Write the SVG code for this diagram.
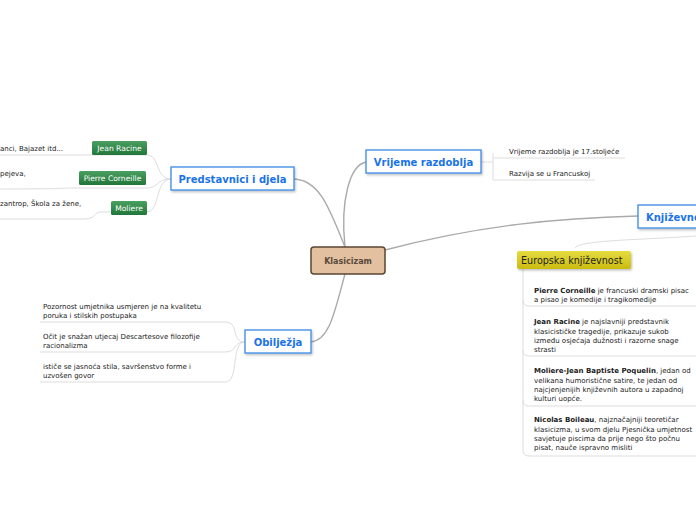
<svg xmlns="http://www.w3.org/2000/svg" width="696" height="520" viewBox="0 0 696 520">
<defs>
<linearGradient id="gr" x1="0" y1="0" x2="0" y2="1"><stop offset="0" stop-color="#4aa060"/><stop offset="1" stop-color="#22763a"/></linearGradient>
<linearGradient id="ye" x1="0" y1="0" x2="0" y2="1"><stop offset="0" stop-color="#e6dc40"/><stop offset="1" stop-color="#cbbb10"/></linearGradient>
<filter id="sh" x="-10%" y="-20%" width="130%" height="160%"><feDropShadow dx="1" dy="1.5" stdDeviation="1" flood-opacity="0.25"/></filter>
</defs>
<style>
text{font-family:"DejaVu Sans",Verdana,sans-serif}
.t{font-size:7px;fill:#222}
.b{font-weight:bold}
.main{fill:#fff;stroke:#3a8ae6;stroke-width:1.3}
.mt{font-size:10px;font-weight:bold;fill:#1a73e8}
.g{fill:url(#gr)}
.gt{font-size:7.6px;fill:#fff}
.c{fill:none;stroke:#aaa;stroke-width:1.4}
.u{fill:none;stroke:#ddd;stroke-width:1}
</style>
<rect width="696" height="520" fill="#fff"/>
<g id="connectors">
<path class="c" d="M345 247 C340 200 350 165 366 162"/>
<path class="c" d="M385 250 C480 225 560 218 638 216"/>
<path class="c" d="M345 247 C330 210 320 180 294 179"/>
<path class="c" d="M345 274 C335 310 330 340 311 342"/>
<path class="u" d="M481 162 L493 162 M493 153 L493 180 M493 158 L625 158 M493 180 L595 180"/>
<path class="u" d="M575 248 C580 240 640 240 696 236"/>
<path class="u" d="M523 269 L523 450 C523 455 526 456 530 456 L696 456 M523 300 C523 305 526 306 530 306 L696 306 M523 350 C523 355 526 356 530 356 L696 356 M523 400 C523 405 526 406 530 406 L696 406"/>
<path class="u" d="M171 179 C155 179 160 155 147 155 L0 155 M171 179 C155 179 160 188 146 188 L70 188 C65 188 62 189 0 189 M171 179 C155 179 160 212 147 212 L100 212 C95 212 95 219 85 219 L0 219"/>
<path class="u" d="M245 342 C230 342 240 322 225 322 L40 322 M245 342 C232 342 238 352 225 352 L40 352 M245 342 C230 342 240 382 225 382 L40 382"/>
</g>
<g id="klasicizam"><rect x="311" y="247" width="74" height="27" rx="3" fill="#e2c0a0" stroke="#5a4632" stroke-width="1.5"/><text x="348" y="264" text-anchor="middle" font-size="8" font-weight="bold" fill="#5a4a3a">Klasicizam</text></g>
<g id="vrijeme"><rect class="main" x="366" y="150" width="115" height="23" filter="url(#sh)"/><text class="mt" x="423.5" y="165.5" text-anchor="middle">Vrijeme razdoblja</text>
<text class="t" x="509" y="154">Vrijeme razdoblja je 17.stoljeće</text><text class="t" x="509" y="176">Razvija se u Francuskoj</text></g>
<g id="knjizevnost"><rect class="main" x="638" y="205" width="70" height="23" filter="url(#sh)"/><text class="mt" x="646" y="220.5">Književnost</text></g>
<g id="europska"><rect x="517" y="251" width="114" height="18" rx="2" fill="url(#ye)" filter="url(#sh)"/><text x="521" y="264" font-size="9.6" fill="#222">Europska književnost</text>
<text class="t" x="534" y="293"><tspan class="b">Pierre Corneille</tspan> je francuski dramski pisac</text><text class="t" x="534" y="302">a pisao je komedije i tragikomedije</text>
<text class="t" x="534" y="324"><tspan class="b">Jean Racine</tspan> je najslavniji predstavnik</text><text class="t" x="534" y="334">klasicističke tragedije, prikazuje sukob</text><text class="t" x="534" y="343">između osjećaja dužnosti i razorne snage</text><text class="t" x="534" y="352">strasti</text>
<text class="t" x="534" y="373"><tspan class="b">Moliere-Jean Baptiste Poquelin</tspan>, jedan od</text><text class="t" x="534" y="383">velikana humoristične satire, te jedan od</text><text class="t" x="534" y="392">najcjenjenijih književnih autora u zapadnoj</text><text class="t" x="534" y="401">kulturi uopće.</text>
<text class="t" x="534" y="422"><tspan class="b">Nicolas Boileau</tspan>, najznačajniji teoretičar</text><text class="t" x="534" y="432">klasicizma, u svom djelu Pjesnička umjetnost</text><text class="t" x="534" y="441">savjetuje piscima da prije nego što počnu</text><text class="t" x="534" y="450">pisat, nauče ispravno misliti</text></g>
<g id="predstavnici"><rect class="main" x="171" y="167" width="123" height="23" filter="url(#sh)"/><text class="mt" x="232.5" y="182.5" text-anchor="middle">Predstavnici i djela</text></g>
<g id="racine"><rect class="g" x="92" y="141" width="55" height="14" rx="1.5"/><text class="gt" x="119.5" y="151" text-anchor="middle">Jean Racine</text><text class="t" x="0" y="151">anci, Bajazet itd...</text></g>
<g id="corneille"><rect class="g" x="79" y="171" width="67" height="14" rx="1.5"/><text class="gt" x="112.5" y="181" text-anchor="middle">Pierre Corneille</text><text class="t" x="0" y="176">pejeva,</text></g>
<g id="moliere"><rect class="g" x="111" y="201" width="36" height="14" rx="1.5"/><text class="gt" x="129" y="211" text-anchor="middle">Moliere</text><text class="t" x="0" y="206">zantrop, Škola za žene,</text></g>
<g id="obiljezja"><rect class="main" x="245" y="330" width="66" height="23" filter="url(#sh)"/><text class="mt" x="278" y="345.5" text-anchor="middle">Obilježja</text>
<text class="t" x="43" y="309">Pozornost umjetnika usmjeren je na kvalitetu</text><text class="t" x="43" y="318">poruka i stilskih postupaka</text>
<text class="t" x="43" y="339">Očit je snažan utjecaj Descartesove filozofije</text><text class="t" x="43" y="348">racionalizma</text>
<text class="t" x="43" y="369">ističe se jasnoća stila, savršenstvo forme i</text><text class="t" x="43" y="378">uzvošen govor</text></g>
</svg>
